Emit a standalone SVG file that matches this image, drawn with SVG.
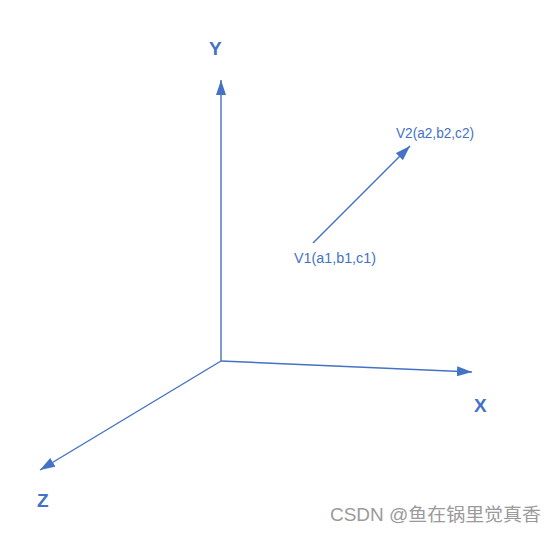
<svg xmlns="http://www.w3.org/2000/svg" width="557" height="534" viewBox="0 0 557 534">
<defs>
<marker id="ah" viewBox="0 0 15 10" refX="15" refY="5" markerWidth="15" markerHeight="10" markerUnits="userSpaceOnUse" orient="auto">
<path d="M0,0 L15,5 L0,10 Z" fill="#4472C4"/>
</marker>
<style>
.ax{stroke:#4472C4;stroke-width:1.4;fill:none;marker-end:url(#ah)}
.lbl{font-family:"Liberation Sans",Arial,sans-serif;font-weight:bold;font-size:19px;fill:#4472C4}
.pt{font-family:"Liberation Sans",Arial,sans-serif;font-size:14px;fill:#4472C4}
.wm{font-family:"Liberation Sans","Noto Sans CJK SC",sans-serif;font-size:18px;fill:#9a9a9a}
</style>
</defs>
<rect width="557" height="534" fill="#ffffff"/>
<g id="connectors">
<line class="ax" x1="221" y1="361" x2="221" y2="80"/>
<line class="ax" x1="221" y1="361" x2="472" y2="372"/>
<line class="ax" x1="221" y1="361" x2="40" y2="470"/>
<line class="ax" x1="313" y1="243" x2="410" y2="146"/>
</g>
<g id="axis-y"><text class="lbl" x="209" y="55">Y</text></g>
<g id="axis-x"><text class="lbl" x="474" y="412">X</text></g>
<g id="axis-z"><text class="lbl" x="37" y="507">Z</text></g>
<g id="v1"><text class="pt" x="294" y="263" textLength="82" lengthAdjust="spacingAndGlyphs">V1(a1,b1,c1)</text></g>
<g id="v2"><text class="pt" x="396" y="138" textLength="78" lengthAdjust="spacingAndGlyphs">V2(a2,b2,c2)</text></g>
<text class="wm" x="330" y="521" textLength="211" lengthAdjust="spacingAndGlyphs">CSDN @鱼在锅里觉真香</text>
</svg>
